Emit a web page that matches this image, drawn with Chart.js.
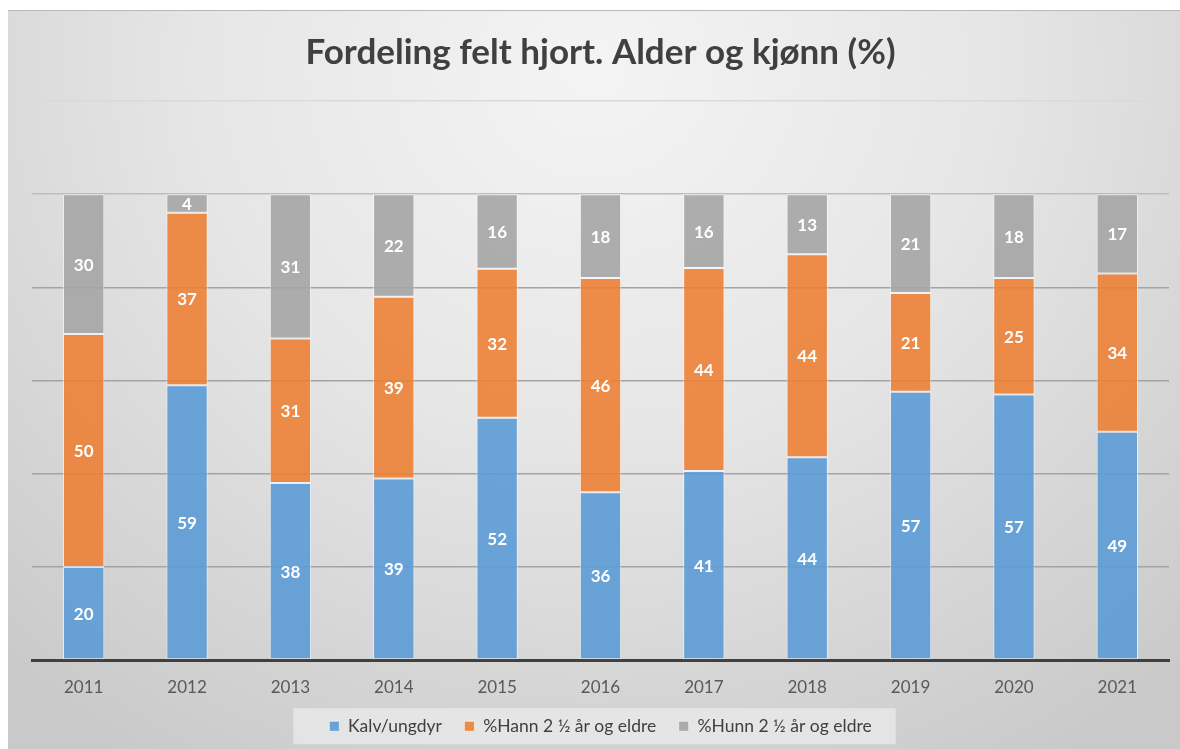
<!DOCTYPE html>
<html>
<head>
<meta charset="utf-8">
<script src="https://cdn.jsdelivr.net/npm/chart.js@4.4.1/dist/chart.umd.min.js"></script>
<style>
  html, body { margin: 0; padding: 0; background: #fff; }
  #wrap {
    position: absolute; left: 8px; top: 10px; width: 1172px; height: 739px;
    background: radial-gradient(ellipse 75% 110% at 50% 8%, #f4f4f4 0%, #e6e6e6 45%, #c9c9c9 100%);
    border-top: 1px solid #b8b8b8;
    box-sizing: border-box;
  }
  canvas { display: block; }
</style>
</head>
<body>
<div id="wrap"><canvas id="chart" width="1172" height="738"></canvas></div>
<script>
const years = ['2011', '2012', '2013', '2014', '2015', '2016', '2017', '2018', '2019', '2020', '2021'];
const kalv = [20, 59, 38, 39, 52, 36, 41, 44, 57, 57, 49];
const hann = [50, 37, 31, 39, 32, 46, 44, 44, 21, 25, 34];
const hunn = [30, 4, 31, 22, 16, 18, 16, 13, 21, 18, 17];
const seriesNames = ['Kalv/ungdyr', '%Hann 2 ½ år og eldre', '%Hunn 2 ½ år og eldre'];

// 100 % stacked, like the original
const totals = years.map((y, i) => kalv[i] + hann[i] + hunn[i]);
const pct = arr => arr.map((v, i) => v / totals[i] * 100);
const raw = [kalv, hann, hunn];

const labelPlugin = {
  id: 'barLabels',
  afterDatasetsDraw(chart) {
    const ctx = chart.ctx;
    ctx.save();
    ctx.font = 'bold 17px Lato';
    ctx.fillStyle = '#ffffff';
    ctx.textAlign = 'center';
    ctx.textBaseline = 'middle';
    chart.data.datasets.forEach((ds, di) => {
      chart.getDatasetMeta(di).data.forEach((bar, i) => {
        const y = (bar.y + bar.base) / 2;
        ctx.fillText(String(raw[di][i]), bar.x, y + 1);
      });
    });
    ctx.restore();
  }
};

const legendBg = {
  id: 'legendBg',
  beforeDraw(chart) {
    const boxes = chart.legend.legendHitBoxes;
    if (!boxes || !boxes.length) return;
    const last = boxes[boxes.length - 1];
    const left = boxes[0].left - 36;
    const right = last.left + last.width + 24;
    const mid = boxes[0].top + boxes[0].height / 2;
    const ctx = chart.ctx;
    ctx.save();
    ctx.fillStyle = 'rgba(236,236,236,0.7)';
    ctx.fillRect(left, mid - 18, right - left, 36);
    ctx.restore();
  }
};

new Chart(document.getElementById('chart'), {
  type: 'bar',
  data: {
    labels: years,
    datasets: [
      { label: seriesNames[0], data: pct(kalv), backgroundColor: 'rgba(91,155,213,0.9)' },
      { label: seriesNames[1], data: pct(hann), backgroundColor: 'rgba(237,125,49,0.88)' },
      { label: seriesNames[2], data: pct(hunn), backgroundColor: 'rgba(165,165,165,0.9)' }
    ]
  },
  options: {
    responsive: false,
    animation: false,
    layout: { padding: { left: 24, right: 11, top: 0, bottom: 4 } },
    datasets: {
      bar: {
        categoryPercentage: 1,
        barPercentage: 0.4,
        borderWidth: 1,
        borderColor: 'rgba(255,255,255,0.55)',
        borderSkipped: false
      }
    },
    scales: {
      x: {
        stacked: true,
        grid: { display: false, drawTicks: true, tickLength: 15 },
        border: { color: '#404040', width: 3 },
        ticks: { color: '#595959', font: { family: 'Lato', size: 17 }, padding: 2 }
      },
      y: {
        stacked: true,
        min: 0,
        max: 120,
        ticks: { display: false, stepSize: 20 },
        border: { display: false },
        grid: {
          drawTicks: false,
          lineWidth: 1.5,
          color: ctx => ctx.tick.value === 120 ? '#dadada' : (ctx.tick.value === 100 ? '#bdbdbd' : '#a3a3a3')
        }
      }
    },
    plugins: {
      title: {
        display: true,
        text: 'Fordeling felt hjort. Alder og kjønn (%)',
        color: '#404040',
        font: { family: 'Lato', size: 35, weight: 'bold' },
        padding: { top: 21, bottom: 27 }
      },
      legend: {
        position: 'bottom',
        labels: {
          color: '#404040',
          font: { family: 'Lato', size: 17.5 },
          boxWidth: 10,
          boxHeight: 10,
          padding: 18,
          generateLabels(chart) {
            const items = Chart.defaults.plugins.legend.labels.generateLabels(chart);
            items.forEach((it, i) => { if (i < items.length - 1) it.text += ' '; });
            return items;
          }
        }
      },
      tooltip: { enabled: false }
    }
  },
  plugins: [legendBg, labelPlugin]
});
</script>
</body>
</html>
